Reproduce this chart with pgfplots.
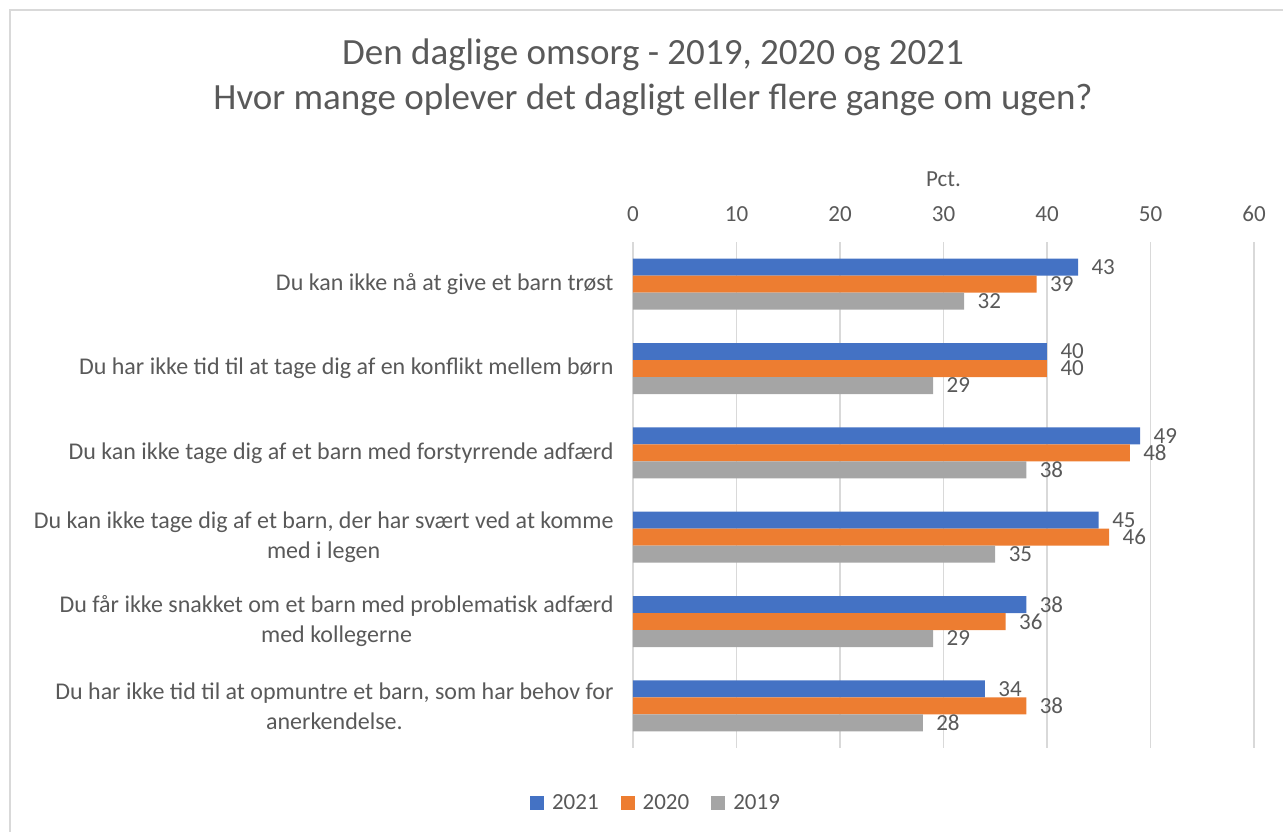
\documentclass[border=0pt]{standalone}
\usepackage{pgfplots}
\pgfplotsset{compat=1.18}
\usepackage{fontspec}
\setmainfont{Carlito}
\definecolor{c21}{HTML}{4472C4}
\definecolor{c20}{HTML}{ED7D31}
\definecolor{c19}{HTML}{A5A5A5}
\definecolor{txt}{HTML}{595959}
\definecolor{gridc}{HTML}{D9D9D9}
\begin{document}
\begin{tikzpicture}[x=1pt,y=1pt]
\path[use as bounding box] (0,0) rectangle (1283,832);
\draw[gridc, line width=1.5pt] (10,0) -- (10,822) -- (1283,822);
\node[txt, font=\fontsize{37}{45}\selectfont, align=center] at (653,754.5) {Den daglige omsorg - 2019, 2020 og 2021\\Hvor mange oplever det dagligt eller flere gange om ugen?};
\begin{axis}[
 at={(633pt,84pt)}, anchor=south west,
 scale only axis, width=621pt, height=506pt,
 xbar=0pt, bar width=17pt,
 xmin=0, xmax=60, ymin=-0.5, ymax=5.5,
 y dir=reverse,
 xtick={0,10,...,60},
 ytick={0,...,5},
 /pgf/number format/assume math mode=true,
 yticklabels={Du kan ikke nå at give et barn trøst,
   Du har ikke tid til at tage dig af en konflikt mellem børn,
   Du kan ikke tage dig af et barn med forstyrrende adfærd,
   {Du kan ikke tage dig af et barn, der har svært ved at komme\\med i legen},
   Du får ikke snakket om et barn med problematisk adfærd\\med kollegerne,
   {Du har ikke tid til at opmuntre et barn, som har behov for\\anerkendelse.}},
 yticklabel style={align=center, font=\fontsize{24}{30}\selectfont, text=txt, xshift=-16pt},
 xticklabel pos=right,
 xticklabel style={font=\fontsize{23}{26}\selectfont, text=txt, yshift=17pt},
 xlabel={Pct.},
 xlabel style={font=\fontsize{23}{26}\selectfont, text=txt, yshift=12pt},
 axis line style={draw=none},
 major tick length=0pt,
 xmajorgrids, grid style={gridc, line width=1.5pt},
 nodes near coords, point meta=x,
 nodes near coords style={font=\fontsize{23}{26}\selectfont, text=txt, anchor=west, xshift=10pt},
 legend style={at={(0.037,-0.109)}, anchor=center, draw=none, legend columns=3,
   font=\fontsize{23}{26}\selectfont, text=txt,
   /tikz/every odd column/.append style={column sep=6pt},
   /tikz/every even column/.append style={column sep=20pt}},
 legend image code/.code={\fill[#1] (0pt,-7pt) rectangle (14pt,7pt);},
]
\addplot[bar shift=17pt, fill=c21, draw=none] coordinates {(43,0) (40,1) (49,2) (45,3) (38,4) (34,5)};
\addplot[bar shift=0pt, fill=c20, draw=none] coordinates {(39,0) (40,1) (48,2) (46,3) (36,4) (38,5)};
\addplot[bar shift=-17pt, fill=c19, draw=none] coordinates {(32,0) (29,1) (38,2) (35,3) (29,4) (28,5)};
\legend{2021,2020,2019}
\end{axis}
\end{tikzpicture}
\end{document}
